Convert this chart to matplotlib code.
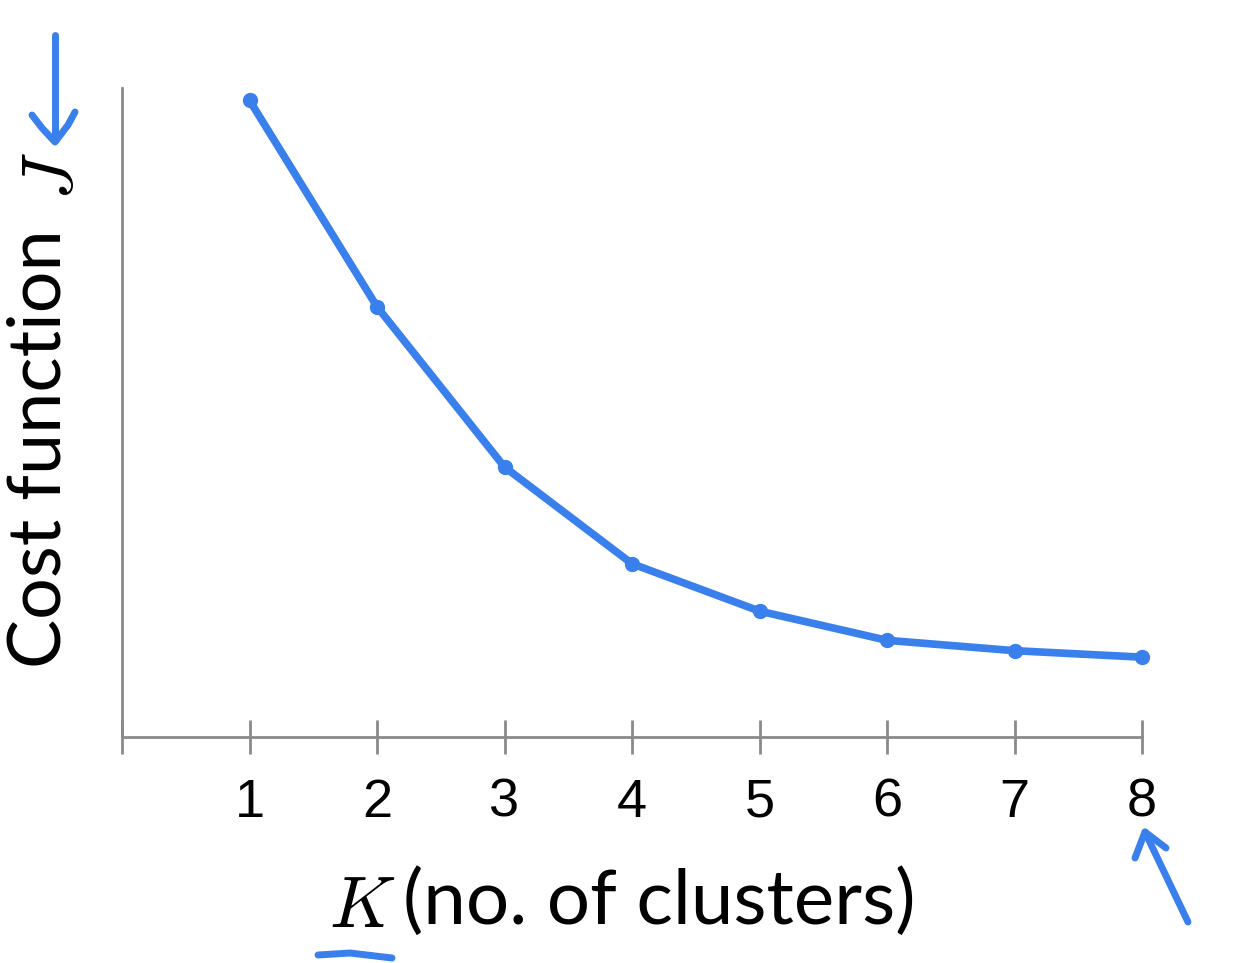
import matplotlib
matplotlib.use("Agg")
import matplotlib.pyplot as plt
from matplotlib.lines import Line2D

# Data
k_values = [1, 2, 3, 4, 5, 6, 7, 8]
cost_J = [9.81, 6.63, 4.16, 2.67, 1.94, 1.49, 1.33, 1.23]
x_ticks = [0, 1, 2, 3, 4, 5, 6, 7, 8]
x_tick_labels = ["", "1", "2", "3", "4", "5", "6", "7", "8"]

W, H = 1254, 963
BLUE = "#3a80ec"
GRAY = "#8a8a8a"

plt.rcParams["mathtext.fontset"] = "cm"
fig = plt.figure(figsize=(W / 100, H / 100), dpi=100)
fig.patch.set_facecolor("white")

def fx(px):
    return px / W

def fy(py):
    return 1 - py / H

ax = fig.add_axes([fx(122), fy(737), fx(1142) - fx(122), fy(88) - fy(737)])
ax.set_xlim(0, 8)
ax.set_ylim(0, 10)

ax.plot(k_values, cost_J, color=BLUE, lw=5.5, solid_capstyle="round",
        solid_joinstyle="round", clip_on=False, zorder=3)
ax.plot(k_values, cost_J, "o", color=BLUE, ms=10, clip_on=False, zorder=4)

for s in ["top", "right"]:
    ax.spines[s].set_visible(False)
for s in ["left", "bottom"]:
    ax.spines[s].set_color(GRAY)
    ax.spines[s].set_linewidth(2)

ax.set_xticks(x_ticks)
ax.set_xticklabels(x_tick_labels, fontfamily="Liberation Sans", fontsize=39)
ax.tick_params(axis="x", direction="inout", length=25, width=2, color=GRAY, pad=17)
ax.set_yticks([])

# Axis labels
fig.text(fx(40), fy(449), "Cost function", rotation=90, ha="center", va="center",
         fontfamily="Lato", fontsize=53, color="black")
fig.text(fx(52), fy(176), r"$J$", rotation=90, ha="center", va="center",
         fontsize=52, color="black")
fig.text(fx(362), fy(907), r"$K$", ha="center", va="center", fontsize=52, color="black")
fig.text(fx(403), fy(902), "(no. of clusters)", ha="left", va="center",
         fontfamily="Lato", fontsize=55, color="black")

# Hand-drawn annotations
def stroke(xs, ys, lw=5):
    fig.add_artist(Line2D([fx(x) for x in xs], [fy(y) for y in ys], color=BLUE,
                          lw=lw, solid_capstyle="round", solid_joinstyle="round",
                          transform=fig.transFigure))

stroke([55, 55], [35, 140])
stroke([32, 42, 55, 68, 75], [115, 128, 142, 125, 112])
stroke([1188, 1145], [922, 832])
stroke([1135, 1145, 1166], [858, 832, 848])
stroke([318, 350, 392], [955, 953, 958])

fig.savefig("out.png", dpi=100, facecolor="white")
